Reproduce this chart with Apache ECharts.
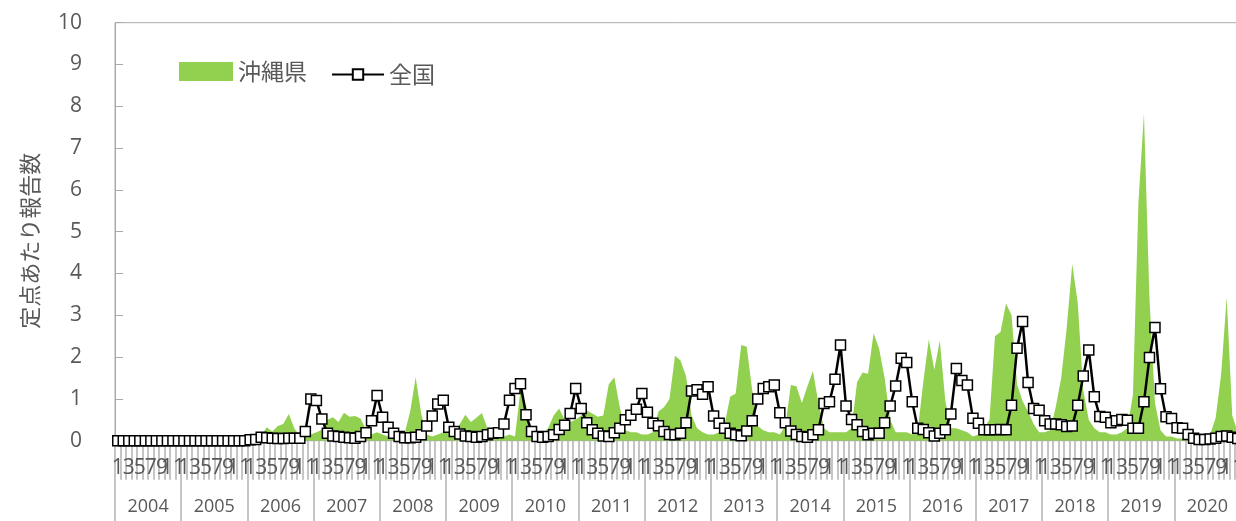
<!DOCTYPE html>
<html>
<head>
<meta charset="utf-8">
<script src="https://cdn.jsdelivr.net/npm/echarts@6/dist/echarts.min.js"></script>
<style>
html,body{margin:0;padding:0;overflow:hidden;background:#fff;}
#chart{width:1242px;height:521px;}
</style>
</head>
<body>
<div id="chart"></div>
<script>
const years = ['2004','2005','2006','2007','2008','2009','2010','2011','2012','2013','2014','2015','2016','2017','2018','2019','2020'];
const monthLabels = ['1','2','3','4','5','6','7','8','9','10','11','12'];
const yTicks = [0,1,2,3,4,5,6,7,8,9,10];

// 沖縄県 (monthly, Jan 2004 - Dec 2020)
const okinawa = [
  0,0,0,0,0,0,0,0,0,0,0,0,
  0,0,0,0,0,0,0,0,0,0,0,0,
  0,0.02,0.1,0.32,0.22,0.35,0.4,0.64,0.3,0.1,0.1,0.15,
  0.2,0.26,0.5,0.56,0.45,0.67,0.57,0.59,0.53,0.26,0.15,0.2,
  0.15,0.1,0.1,0.1,0.18,0.7,1.52,0.65,0.15,0.1,0.15,0.2,
  0.2,0.15,0.4,0.62,0.45,0.55,0.66,0.3,0.15,0.1,0.1,0.15,
  0.1,1.22,0.85,0.15,0.1,0.15,0.3,0.6,0.77,0.5,0.45,0.5,
  0.6,0.72,0.65,0.57,0.6,1.35,1.52,0.8,0.25,0.2,0.2,0.15,
  0.15,0.2,0.7,0.8,1.0,2.03,1.92,1.55,0.6,0.3,0.2,0.15,
  0.15,0.2,0.4,1.05,1.13,2.29,2.25,1.2,0.35,0.25,0.2,0.2,
  0.15,0.35,1.33,1.3,0.9,1.3,1.67,0.9,0.3,0.2,0.2,0.2,
  0.2,0.3,1.4,1.63,1.6,2.57,2.2,1.5,0.5,0.2,0.2,0.2,
  0.15,0.25,1.4,2.42,1.7,2.4,0.95,0.3,0.3,0.25,0.2,0.1,
  0.15,0.3,0.5,2.5,2.6,3.28,3.0,1.35,0.95,0.7,0.4,0.2,
  0.2,0.25,0.8,1.5,2.7,4.23,3.3,1.2,0.5,0.3,0.2,0.2,
  0.15,0.15,0.2,0.3,1.1,5.7,7.83,3.4,0.9,0.25,0.1,0.1,
  0.05,0.05,0.05,0.05,0.05,0.1,0.15,0.55,1.6,3.44,0.6,0.2
];

// 全国 (monthly, Jan 2004 - Dec 2020)
const national = [
  0,0,0,0,0,0,0,0,0,0,0,0,
  0,0,0,0,0,0,0,0,0,0,0,0,
  0.02,0.03,0.08,0.07,0.06,0.05,0.05,0.06,0.06,0.06,0.22,1.0,
  0.96,0.52,0.18,0.11,0.1,0.08,0.07,0.06,0.1,0.19,0.48,1.08,
  0.56,0.32,0.18,0.1,0.07,0.07,0.08,0.14,0.35,0.59,0.88,0.97,
  0.32,0.22,0.16,0.11,0.1,0.08,0.1,0.14,0.18,0.19,0.4,0.97,
  1.25,1.36,0.62,0.22,0.1,0.08,0.1,0.14,0.27,0.37,0.65,1.25,
  0.77,0.43,0.26,0.18,0.11,0.1,0.19,0.3,0.5,0.61,0.75,1.13,
  0.68,0.42,0.36,0.22,0.15,0.14,0.18,0.43,1.19,1.22,1.11,1.29,
  0.59,0.42,0.3,0.18,0.14,0.12,0.23,0.48,1.0,1.25,1.29,1.33,
  0.67,0.43,0.23,0.15,0.1,0.08,0.14,0.26,0.89,0.93,1.47,2.29,
  0.83,0.51,0.38,0.22,0.14,0.18,0.18,0.43,0.83,1.31,1.97,1.87,
  0.93,0.3,0.27,0.19,0.11,0.18,0.26,0.64,1.73,1.44,1.33,0.54,
  0.42,0.26,0.26,0.26,0.27,0.26,0.85,2.21,2.85,1.39,0.77,0.73,
  0.48,0.4,0.4,0.38,0.34,0.35,0.85,1.55,2.17,1.05,0.58,0.56,
  0.43,0.48,0.51,0.49,0.3,0.3,0.93,1.99,2.71,1.24,0.57,0.53,
  0.31,0.3,0.15,0.06,0.03,0.03,0.04,0.06,0.1,0.11,0.08,0.05
];

const categories = [];
years.forEach(y => monthLabels.forEach(m => categories.push(y + '-' + m)));

const GRAY = '#ababab';
const TXT = '#595959';
const chart = echarts.init(document.getElementById('chart'));
chart.setOption({
  animation: false,
  textStyle: { fontFamily: "'Open Sans','Noto Sans CJK JP',sans-serif" },
  grid: {
    left: 115, top: 22.7, right: 1.5, bottom: 80.3,
    containLabel: false, outerBoundsMode: 'none',
    show: true, borderColor: GRAY, borderWidth: 1
  },
  legend: [
    {
      data: [{ name: '沖縄県', icon: 'rect' }],
      left: 179, top: 60, padding: 0, itemWidth: 54, itemHeight: 19,
      textStyle: { fontSize: 23, color: TXT, fontFamily: "'Noto Sans CJK JP',sans-serif" }
    },
    {
      data: [{ name: '全国' }],
      left: 331, top: 63, padding: 0, itemWidth: 52, itemHeight: 13,
      textStyle: { fontSize: 23, color: TXT, fontFamily: "'Noto Sans CJK JP',sans-serif" }
    }
  ],
  xAxis: [
    {
      type: 'category', data: categories, boundaryGap: true,
      axisLine: { show: true, lineStyle: { color: GRAY, width: 1 } },
      axisTick: { show: true, interval: 0, length: 39, lineStyle: { color: '#b3b3b3', width: 1.5 } },
      axisLabel: {
        interval: 0, margin: 17, fontSize: 21, color: TXT,
        hideOverlap: false,
        fontFamily: "'Liberation Sans Narrow','Open Sans',sans-serif",
        formatter: v => {
          const m = v.split('-')[1];
          return (+m) % 2 === 1 ? m : '';
        }
      }
    },
    {
      type: 'category', data: years, position: 'bottom', offset: 39, boundaryGap: true,
      axisLine: { show: false },
      axisTick: { show: true, interval: 0, length: 50, lineStyle: { color: '#b3b3b3', width: 1.5 } },
      axisLabel: { interval: 0, margin: 18, fontSize: 18, color: TXT, hideOverlap: false }
    }
  ],
  yAxis: {
    type: 'value', min: 0, max: 10, interval: 1,
    name: '定点あたり報告数', nameLocation: 'middle', nameGap: 74,
    nameTextStyle: { fontSize: 22, color: TXT, fontFamily: "'Noto Sans CJK JP',sans-serif", padding: [0, 18, 0, 0] },
    axisLine: { show: true, lineStyle: { color: GRAY } },
    axisTick: { show: true, inside: true, length: 8, lineStyle: { color: GRAY } },
    splitLine: { show: false },
    axisLabel: { fontSize: 21, color: TXT, margin: 33, formatter: v => String(v) }
  },
  series: [
    {
      name: '沖縄県', type: 'line', xAxisIndex: 0, data: okinawa,
      showSymbol: false, symbol: 'none',
      itemStyle: { color: '#92d050' },
      lineStyle: { width: 0, color: '#92d050' },
      areaStyle: { color: '#92d050', opacity: 1 },
      z: 1
    },
    {
      name: '全国', type: 'line', xAxisIndex: 0, data: national,
      symbol: 'rect', symbolSize: 10, showSymbol: true, showAllSymbol: true,
      itemStyle: { color: '#ffffff', borderColor: '#000000', borderWidth: 1.5 },
      lineStyle: { color: '#000000', width: 2.5 },
      z: 3
    }
  ]
});
</script>
</body>
</html>
